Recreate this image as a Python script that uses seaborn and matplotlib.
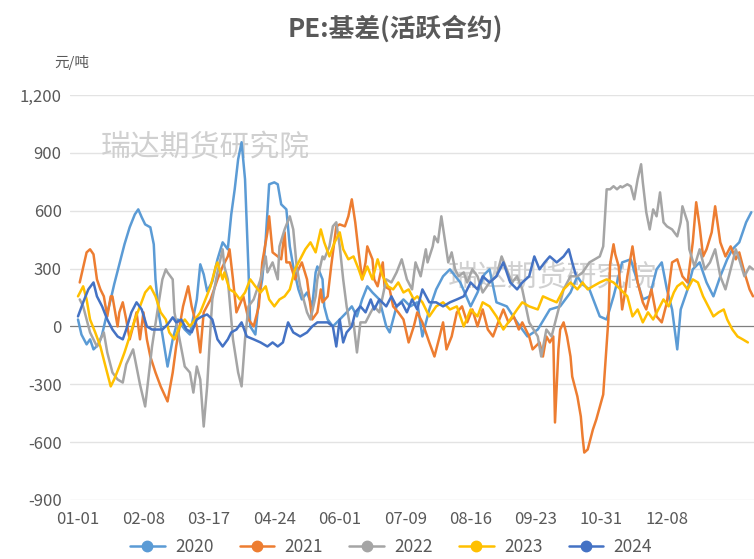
import numpy as np
import pandas as pd
import matplotlib
matplotlib.use("Agg")
import matplotlib.pyplot as plt
from matplotlib.lines import Line2D
import seaborn as sns

# ---------------- data ----------------
title = "PE:基差(活跃合约)"
unit = "元/吨"
watermark = "瑞达期货研究院"
years = ["2020", "2021", "2022", "2023", "2024"]
colors = ["#5B9BD5", "#ED7D31", "#A5A5A5", "#FFC000", "#4472C4"]
tick_days = [0, 38, 76, 114, 152, 190, 228, 266, 304, 342]
tick_labels = ["01-01", "02-08", "03-17", "04-24", "06-01", "07-09", "08-16", "09-23", "10-31", "12-08"]
y_ticks = [-900, -600, -300, 0, 300, 600, 900, 1200]

days_2020 = [0, 2, 5, 7, 9, 12, 14, 16, 19, 21, 24, 27, 30, 33, 35, 37, 39, 42, 44, 45, 47, 49, 52, 55, 58, 62, 65, 69, 71, 73, 75, 78, 81, 84, 87, 89, 91, 93, 95, 97, 99, 100, 103, 105, 107, 109, 111, 114, 116, 118, 121, 123, 125, 128, 130, 133, 136, 138, 139, 142, 143, 145, 148, 152, 156, 159, 162, 165, 168, 171, 175, 179, 181, 185, 189, 193, 197, 200, 204, 208, 212, 216, 222, 228, 232, 236, 239, 243, 249, 255, 261, 267, 274, 280, 286, 290, 293, 297, 303, 307, 311, 316, 321, 325, 328, 332, 336, 339, 342, 345, 348, 350, 354, 357, 361, 365, 369, 373, 377, 380, 384, 388, 391]
vals_2020 = [36, -42, -93, -67, -119, -93, -42, 36, 140, 218, 322, 426, 514, 581, 607, 566, 529, 514, 426, 244, 62, -42, -208, -67, 36, -16, -42, 140, 322, 270, 182, 233, 348, 436, 400, 581, 711, 867, 955, 763, 296, 0, -42, 140, 244, 452, 737, 747, 737, 633, 607, 415, 311, 192, 140, 176, 104, 280, 311, 244, 104, 36, 0, 36, 73, 104, 52, 140, 208, 176, 140, 0, -31, 104, 140, 104, 125, -52, 88, 192, 260, 296, 228, 104, 176, 270, 296, 125, 104, 21, -52, -16, 88, 104, 176, 260, 218, 192, 52, 36, 156, 332, 348, 228, 140, 156, 296, 332, 192, 88, -119, 88, 192, 296, 332, 228, 156, 260, 348, 400, 436, 540, 592]

days_2021 = [1, 5, 7, 9, 11, 13, 15, 17, 19, 20, 23, 24, 26, 28, 30, 32, 34, 36, 38, 40, 42, 45, 48, 52, 55, 57, 61, 64, 66, 69, 71, 73, 77, 81, 84, 87, 88, 90, 92, 96, 99, 102, 105, 107, 110, 111, 113, 116, 118, 120, 121, 123, 126, 128, 130, 133, 135, 136, 139, 141, 142, 145, 147, 150, 152, 155, 157, 159, 161, 163, 165, 167, 168, 171, 172, 174, 177, 178, 181, 183, 186, 189, 192, 195, 197, 200, 204, 207, 210, 212, 214, 217, 220, 223, 226, 229, 232, 235, 238, 241, 244, 247, 250, 253, 256, 258, 262, 264, 268, 270, 272, 274, 276, 277, 279, 280, 282, 284, 286, 287, 290, 292, 293, 294, 296, 299, 301, 305, 306, 308, 309, 311, 312, 314, 316, 318, 319, 322, 325, 328, 330, 333, 336, 339, 342, 345, 348, 351, 354, 357, 359, 361, 363, 365, 368, 370, 373, 376, 379, 382, 384, 387, 390, 392]
vals_2021 = [228, 384, 400, 374, 244, 192, 156, 52, 156, 156, 0, 73, 125, 36, -67, 0, 73, -67, 73, -67, -156, -239, -311, -389, -239, -104, 104, 208, 104, 0, -135, 73, 140, 244, 311, 363, 400, 244, 73, 156, 36, 0, 104, 332, 488, 571, 384, 363, 348, 488, 332, 332, 244, 296, 332, 244, 104, 36, 73, 192, 125, 156, 311, 519, 529, 519, 571, 659, 540, 384, 244, 332, 415, 348, 244, 208, 332, 208, 192, 104, 73, 36, -83, 0, 73, 21, -83, -156, -52, 21, -119, -52, 73, 104, 21, 88, 0, 88, -16, -52, 21, 88, 21, 52, -16, 21, -52, -119, -83, -156, -52, -83, -52, -498, -119, -16, 21, -52, -156, -260, -363, -467, -571, -654, -638, -535, -482, -353, -223, 36, 322, 426, 374, 311, 88, 192, 260, 415, 228, 125, 88, 192, 52, 21, 125, 332, 348, 260, 228, 436, 644, 519, 363, 400, 488, 623, 436, 363, 415, 348, 384, 280, 192, 156]

days_2022 = [1, 3, 7, 11, 15, 17, 20, 23, 26, 28, 32, 36, 39, 43, 46, 49, 51, 52, 55, 56, 59, 62, 65, 67, 69, 71, 73, 75, 77, 78, 81, 84, 85, 87, 90, 93, 95, 97, 99, 102, 106, 109, 110, 113, 116, 117, 120, 123, 125, 127, 129, 131, 133, 135, 138, 139, 142, 143, 146, 148, 150, 152, 154, 156, 158, 160, 162, 164, 167, 170, 172, 175, 179, 182, 185, 188, 191, 194, 196, 199, 202, 203, 206, 207, 209, 211, 213, 215, 217, 219, 221, 224, 226, 229, 232, 235, 239, 243, 246, 249, 252, 255, 258, 262, 267, 269, 272, 275, 278, 282, 286, 290, 293, 297, 303, 305, 307, 309, 311, 313, 315, 316, 319, 321, 323, 325, 327, 328, 330, 332, 334, 336, 338, 340, 342, 345, 348, 350, 351, 354, 355, 358, 361, 364, 367, 370, 373, 376, 379, 382, 384, 387, 390, 392]
vals_2022 = [140, 104, -31, -104, -31, -135, -239, -275, -291, -197, -119, -301, -415, -104, 73, 244, 296, 280, 244, 73, -67, -208, -239, -343, -208, -275, -519, -311, 0, 140, 280, 400, 311, 244, -67, -239, -311, -67, 104, 140, 244, 363, 280, 332, 244, 415, 503, 571, 503, 311, 208, 140, 73, 36, 156, 244, 363, 348, 415, 519, 540, 415, 244, 104, 0, 21, -135, 21, 21, 73, 104, 73, 244, 228, 280, 348, 244, 192, 332, 260, 400, 332, 415, 467, 436, 571, 452, 332, 384, 296, 260, 280, 228, 296, 260, 176, 228, 260, 363, 296, 228, 260, 192, 21, -52, -156, -16, -52, 52, 192, 260, 260, 280, 332, 363, 415, 711, 711, 727, 711, 727, 721, 737, 727, 659, 763, 841, 747, 592, 503, 607, 571, 695, 540, 519, 503, 467, 540, 623, 540, 400, 311, 400, 296, 332, 400, 260, 192, 296, 400, 348, 260, 311, 296]

days_2023 = [0, 3, 5, 7, 10, 13, 16, 19, 21, 24, 27, 30, 33, 36, 39, 42, 45, 48, 51, 53, 56, 59, 62, 65, 68, 71, 74, 77, 80, 81, 84, 85, 88, 91, 94, 97, 100, 103, 106, 109, 111, 114, 117, 120, 123, 126, 129, 132, 135, 138, 141, 143, 146, 149, 152, 154, 157, 160, 163, 165, 168, 171, 174, 177, 180, 183, 186, 189, 192, 195, 197, 200, 204, 208, 212, 216, 220, 224, 228, 232, 235, 239, 243, 247, 251, 255, 258, 262, 267, 270, 274, 278, 282, 286, 290, 293, 296, 299, 303, 307, 311, 315, 319, 322, 325, 328, 331, 334, 337, 340, 343, 346, 348, 351, 354, 357, 360, 363, 366, 369, 372, 375, 377, 380, 383, 386, 389]
vals_2023 = [156, 208, 140, 36, -31, -104, -208, -311, -275, -208, -135, -52, 36, 104, 176, 208, 156, 73, 36, -31, -67, 0, 36, 0, 36, 73, 140, 208, 311, 332, 244, 280, 192, 176, 140, 176, 244, 208, 176, 208, 140, 104, 140, 156, 192, 296, 348, 400, 436, 384, 503, 436, 363, 436, 488, 400, 348, 363, 296, 244, 311, 244, 348, 260, 208, 192, 228, 176, 192, 140, 156, 125, 52, 104, 125, 88, 104, 0, 88, 52, 125, 104, 52, -16, 36, 88, 125, 104, 88, 156, 140, 125, 192, 228, 192, 228, 192, 208, 228, 244, 228, 192, 156, 52, 88, 21, 73, 36, 88, 140, 104, 176, 208, 228, 192, 244, 228, 156, 104, 52, 73, 88, 36, -16, -52, -67, -83]

days_2024 = [0, 3, 6, 9, 11, 14, 17, 20, 23, 26, 28, 31, 34, 37, 40, 43, 46, 49, 52, 55, 57, 60, 63, 66, 69, 72, 75, 78, 81, 84, 87, 89, 92, 95, 98, 102, 106, 110, 113, 116, 119, 122, 125, 129, 133, 136, 139, 142, 145, 148, 150, 152, 154, 156, 159, 161, 164, 167, 170, 172, 175, 179, 182, 185, 188, 191, 194, 197, 200, 204, 208, 212, 216, 220, 224, 228, 232, 235, 239, 243, 247, 251, 255, 258, 262, 265, 268, 271, 274, 278, 282, 285, 287, 289]
vals_2024 = [52, 125, 192, 228, 156, 104, 36, -16, -52, -67, -16, 73, 125, 88, 0, -16, -16, -16, 10, 47, 21, 36, -16, -31, 36, 52, 62, 36, -67, -104, -67, -31, -16, 21, -52, -67, -83, -104, -83, -104, -83, 21, -31, -52, -31, 0, 21, 21, 21, 0, -104, 36, -83, -31, 0, 73, 104, 73, 140, 88, 140, 104, 156, 104, 125, 73, 140, 88, 192, 125, 125, 104, 125, 140, 156, 228, 192, 260, 228, 260, 332, 228, 192, 228, 260, 363, 296, 332, 363, 332, 363, 400, 332, 270]

series_days = [days_2020, days_2021, days_2022, days_2023, days_2024]
series_vals = [vals_2020, vals_2021, vals_2022, vals_2023, vals_2024]

frames = []
for yr, d, v in zip(years, series_days, series_vals):
    frames.append(pd.DataFrame({"day": d, "value": v, "year": yr}))
df = pd.concat(frames, ignore_index=True)

# ---------------- plot ----------------
sns.set_theme(style="white")
plt.rcParams["font.family"] = ["Noto Sans CJK SC", "DejaVu Sans"]

W, H = 754, 559
fig = plt.figure(figsize=(W / 100, H / 100), dpi=100)
ax = fig.add_axes([70 / W, 1 - 500 / H, (W - 70) / W, (500 - 95) / H])

txt_color = "#595959"
palette = dict(zip(years, colors))

for y in y_ticks:
    if y != 0:
        ax.axhline(y, color="#E3E3E3", lw=1.0, zorder=0)
ax.axhline(0, color="#7F7F7F", lw=0.9, zorder=1)

# watermarks
ax.text((205 - 70) / (W - 70), (500 - 148) / (500 - 95), watermark, transform=ax.transAxes,
        fontsize=21.5, color="#D0D0D0", ha="center", va="center", zorder=0.5)
ax.text((552 - 70) / (W - 70), (500 - 278) / (500 - 95), watermark, transform=ax.transAxes,
        fontsize=21.5, color="#D0D0D0", ha="center", va="center", zorder=0.5)

sns.lineplot(data=df, x="day", y="value", hue="year", palette=palette,
             hue_order=years, ax=ax, linewidth=1.8, legend=False,
             estimator=None, sort=False, zorder=3)

ax.set_xlim(-8 / 1.722, (W - 78) / 1.722)
ax.set_ylim(-900, 1200)
ax.set_yticks(y_ticks)
ax.set_yticklabels([f"{v:,}" for v in y_ticks])
ax.set_xticks(tick_days)
ax.set_xticklabels(tick_labels)
ax.tick_params(axis="both", length=0, labelsize=12, colors=txt_color)
ax.tick_params(axis="y", pad=6)
ax.tick_params(axis="x", pad=8)
ax.set_xlabel("")
ax.set_ylabel("")
for s in ax.spines.values():
    s.set_visible(False)

fig.text(395 / W, 1 - 29 / H, title, ha="center", va="center", fontsize=18.5,
         fontweight="bold", color=txt_color)
fig.text(72 / W, 1 - 62 / H, unit, ha="center", va="center", fontsize=10.5, color=txt_color)

handles = [Line2D([0], [0], color=c, lw=1.8, marker="o", markersize=7.5,
                  markerfacecolor=c, markeredgecolor=c) for c in colors]
fig.legend(handles, years, loc="center", bbox_to_anchor=(391 / W, 1 - 547 / H),
           ncol=5, frameon=False, fontsize=12.5, handlelength=2.0,
           handletextpad=0.6, columnspacing=1.5, labelcolor=txt_color)

fig.savefig("out.png", dpi=100)
